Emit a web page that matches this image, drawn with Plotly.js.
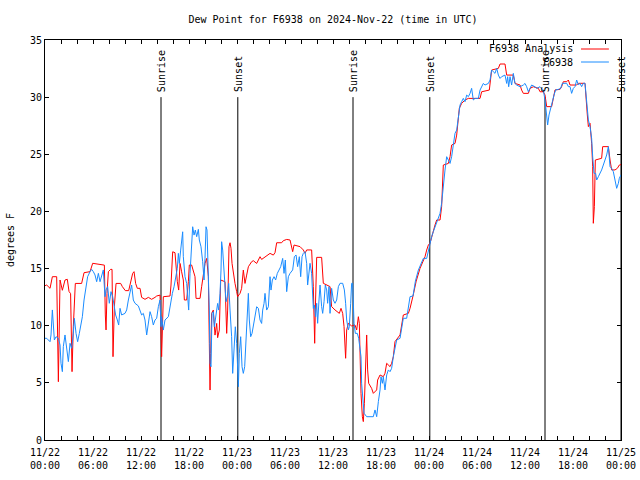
<!DOCTYPE html>
<html>
<head>
<meta charset="utf-8">
<script src="https://cdn.plot.ly/plotly-3.0.1.min.js"></script>
<style>html,body{margin:0;padding:0;background:#fff;}#chart{width:640px;height:480px;}</style>
</head>
<body>
<div id="chart"></div>
<script>
// Hours since 2024-11-22 00:00 UTC
const tickLabels = ["11/22<br>00:00","11/22<br>06:00","11/22<br>12:00","11/22<br>18:00","11/23<br>00:00","11/23<br>06:00","11/23<br>12:00","11/23<br>18:00","11/24<br>00:00","11/24<br>06:00","11/24<br>12:00","11/24<br>18:00","11/25<br>00:00"];

const sunHours = [14.5, 24.1, 38.5, 48.1, 62.5, 72.0];
const sunLabels = ["Sunrise","Sunset","Sunrise","Sunset","Sunrise","Sunset"];

const seriesNames = ["F6938 Analysis", "F6938"];

const analysisHours = [0.0,0.21,0.63,0.92,1.46,1.67,1.88,2.17,2.5,2.79,3.0,3.2,3.38,3.54,3.79,4.58,4.88,5.63,5.96,7.42,7.54,7.63,7.75,7.92,8.21,8.38,8.5,8.67,8.88,9.46,9.67,10.04,10.46,10.7,10.96,11.13,11.33,11.54,11.88,12.08,12.5,12.92,13.33,13.75,13.96,14.38,14.58,14.79,15.63,15.75,15.96,16.25,16.38,16.54,16.71,16.88,17.08,17.29,17.42,17.71,17.92,18.04,18.33,18.54,18.75,18.88,19.38,19.58,19.79,20.0,20.21,20.42,20.54,20.63,20.71,20.83,21.04,21.13,21.25,21.46,21.58,21.79,21.96,22.5,22.63,22.71,22.83,23.0,23.13,23.25,23.38,23.54,23.75,23.96,24.08,24.38,24.58,24.79,25.0,25.21,25.42,25.83,26.04,26.46,26.67,26.88,27.08,27.5,27.92,28.13,28.54,28.75,28.96,29.58,29.79,30.21,30.63,30.71,30.96,31.13,31.88,32.29,32.5,32.71,33.33,33.54,33.67,33.71,33.79,33.96,34.58,34.79,35.63,35.83,36.25,36.79,37.0,37.21,37.38,37.5,37.58,37.71,37.92,38.33,38.75,38.96,39.17,39.29,39.38,39.5,39.67,39.79,39.92,40.08,40.21,40.33,40.46,40.83,41.04,41.46,41.58,41.88,42.29,42.5,42.71,43.13,43.33,43.54,43.75,44.38,44.58,44.79,45.42,45.63,46.0,46.4,46.88,47.29,47.5,47.71,47.92,48.13,48.33,48.54,48.75,48.96,49.38,49.58,49.79,50.42,50.63,50.83,51.25,51.46,51.67,51.79,52.08,52.5,52.92,54.38,54.58,55.54,55.83,56.67,56.88,57.5,57.71,58.54,58.75,59.38,59.58,59.79,60.42,60.63,61.04,61.67,61.88,62.29,62.5,62.71,63.33,63.54,63.75,64.38,64.58,64.79,65.21,65.42,65.63,66.46,66.67,67.5,67.63,67.79,67.92,68.13,68.33,68.46,68.54,68.67,68.79,69.58,69.71,70.42,70.63,70.83,71.25,71.54,71.79,72.0];
const analysisDew = [13.5,13.56,13.27,14.29,14.29,5.1,14.0,13.1,14.0,14.06,13.0,12.8,5.98,9.92,13.7,13.7,14.64,14.73,15.46,15.3,10.94,9.63,12.83,14.73,14.93,14.93,7.29,11.67,13.7,13.7,13.42,13.07,13.07,13.7,14.58,14.73,13.7,13.27,13.27,12.48,12.31,12.48,12.31,12.48,12.6,12.68,7.29,12.54,12.6,13.56,16.47,16.39,14.72,13.85,13.12,15.45,14.72,14.0,12.25,12.25,13.85,15.31,15.31,14.72,14.29,12.39,12.39,13.41,14.43,15.45,15.89,14.29,8.45,4.37,7.58,11.08,11.37,10.2,9.18,10.2,8.95,9.62,14.0,13.85,10.5,9.33,11.37,16.91,17.26,16.77,15.45,14.58,13.7,12.98,12.54,12.83,13.27,14.87,13.7,14.43,15.16,15.6,15.69,15.45,15.75,16.04,15.8,16.04,16.27,16.33,16.18,16.39,17.26,17.26,17.44,17.55,17.5,17.21,16.48,17.06,16.92,16.63,16.33,16.63,16.63,13.42,10.5,8.46,11.38,15.98,15.98,13.71,13.42,11.67,11.38,11.08,11.52,11.08,9.92,8.17,7.15,9.63,10.21,9.98,10.06,9.63,10.79,10.21,7.58,4.08,2.04,1.61,3.21,6.42,9.19,6.13,4.96,4.52,4.08,4.38,5.25,5.69,5.54,5.84,6.71,6.42,6.71,7.29,8.61,9.19,10.21,10.94,11.08,11.52,12.6,13.9,15.02,15.75,16.04,16.62,17.06,17.21,17.79,18.37,18.81,19.25,19.25,20.41,24.06,24.2,24.79,25.81,25.95,26.68,27.85,29.02,29.45,29.75,29.89,29.89,30.47,30.62,32.37,32.52,32.9,32.9,31.93,31.93,31.2,31.06,30.62,30.33,30.33,30.77,30.91,30.77,30.47,30.47,30.19,29.17,29.17,29.9,30.63,30.68,30.92,31.35,31.35,31.5,31.06,31.06,31.21,31.21,29.46,28.44,27.42,27.71,25.96,23.92,18.96,20.42,24.5,24.65,25.67,25.67,24.5,23.63,23.63,23.77,24.06,24.1];

const stationHours = [0.0,0.21,0.63,0.75,0.92,1.04,1.17,1.38,1.67,1.88,2.0,2.17,2.29,2.5,2.71,2.92,3.13,3.33,3.54,3.67,3.88,4.08,4.29,4.46,4.67,4.88,5.13,5.33,5.63,5.83,6.04,6.25,6.46,6.67,6.88,7.08,7.29,7.5,7.63,7.83,8.04,8.25,8.46,8.63,8.83,9.04,9.21,9.38,9.58,10.0,10.21,10.42,10.63,10.83,11.04,11.25,11.67,11.88,12.08,12.29,12.5,12.71,12.92,13.13,13.33,13.54,13.75,13.96,14.17,14.38,14.5,14.58,14.79,15.0,15.42,15.54,15.71,15.92,16.13,16.33,16.54,16.67,16.79,16.96,17.08,17.21,17.29,17.5,17.71,17.83,17.96,18.13,18.33,18.46,18.63,18.79,18.96,19.17,19.29,19.5,19.71,19.88,20.0,20.13,20.25,20.42,20.54,20.63,20.75,20.88,21.04,21.17,21.33,21.46,21.58,21.71,21.88,22.0,22.08,22.21,22.38,22.5,22.63,22.79,22.96,23.13,23.33,23.46,23.63,23.79,23.96,24.08,24.17,24.29,24.46,24.63,24.79,24.96,25.13,25.29,25.42,25.54,25.71,25.88,26.04,26.25,26.46,26.67,26.88,27.08,27.21,27.38,27.5,27.71,27.92,28.13,28.25,28.42,28.63,28.83,29.04,29.25,29.46,29.71,29.88,30.04,30.21,30.42,30.63,30.96,31.17,31.38,31.58,31.79,31.96,32.13,32.29,32.5,32.71,32.83,33.0,33.13,33.33,33.54,33.67,33.83,33.96,34.08,34.25,34.38,34.58,34.71,34.88,35.04,35.21,35.33,35.5,35.63,35.83,36.04,36.25,36.46,36.67,36.88,37.21,37.42,37.58,37.71,37.92,38.04,38.21,38.33,38.46,38.63,38.79,39.04,39.21,39.38,39.5,39.58,39.71,39.88,40.21,41.04,41.25,41.46,41.67,41.88,42.0,42.17,42.29,42.5,42.71,42.92,43.13,43.33,43.54,43.75,43.96,44.38,44.58,44.79,45.21,45.42,45.63,46.0,46.3,46.67,47.08,47.29,47.71,47.92,48.13,48.33,48.54,48.75,48.96,49.17,49.38,49.58,49.71,49.88,50.0,50.21,50.42,50.63,50.83,51.04,51.25,51.46,51.67,51.88,52.08,52.29,52.5,52.71,52.92,53.13,53.33,53.54,53.75,54.17,54.38,54.58,54.79,55.0,55.42,55.63,55.83,56.04,56.25,56.46,56.67,56.88,57.08,57.5,57.71,57.83,57.96,58.13,58.33,58.54,58.75,58.96,59.38,59.79,60.0,60.21,60.42,60.63,60.83,61.25,61.46,61.88,62.29,62.5,62.71,62.83,63.0,63.21,63.42,63.63,63.83,64.17,64.46,64.67,65.21,65.42,65.63,65.83,66.04,66.25,66.46,66.67,66.88,67.08,67.29,67.5,67.71,67.92,68.13,68.33,68.46,68.63,68.83,68.96,69.17,69.38,69.58,69.79,70.0,70.21,70.42,70.63,70.83,71.04,71.25,71.46,71.67,71.79,72.0];
const stationDew = [8.9,8.9,8.6,9.19,11.38,9.92,8.75,9.04,8.9,8.31,6.71,5.98,8.17,9.19,7.73,6.86,8.46,8.02,9.33,10.65,9.33,8.6,9.33,9.92,10.79,12.25,13.27,14.29,14.73,14.93,14.73,14.44,13.85,14.58,13.85,14.44,14.88,12.54,13.13,13.42,11.96,12.98,12.54,11.81,10.94,10.5,10.06,11.52,10.94,11.08,11.38,12.25,12.98,13.56,12.25,11.96,11.73,11.23,10.94,11.08,10.5,9.19,10.5,11.23,10.79,10.06,10.5,10.65,11.67,12.25,9.92,10.79,9.62,10.5,10.79,11.37,12.25,12.83,13.41,14.29,15.02,16.33,15.45,16.62,17.79,18.22,16.04,14.29,13.7,12.83,11.37,14.58,17.79,18.66,17.93,18.37,17.79,18.43,17.5,16.91,15.6,14.0,15.89,18.66,18.37,14.87,11.37,6.71,6.41,11.08,11.23,9.91,10.79,11.66,11.95,11.37,12.83,14.87,17.35,16.62,14.29,13.41,12.1,12.54,13.7,11.37,9.04,5.83,8.45,9.91,8.45,6.12,4.66,7.58,9.04,6.41,5.83,6.41,9.04,11.37,12.83,10.5,9.04,9.33,9.91,10.79,11.66,11.52,10.5,10.2,11.37,11.95,12.83,11.37,11.66,14.29,13.12,14.0,14.29,14.0,14.58,14.87,15.16,15.89,14.58,15.75,12.98,14.29,14.58,14.88,16.04,16.19,15.17,16.04,14.29,16.04,16.33,16.48,15.46,13.56,14.88,15.46,14.58,11.52,11.81,10.79,11.96,10.21,12.25,13.56,11.67,11.08,12.1,13.56,13.13,11.96,13.42,11.08,13.27,12.25,11.96,12.25,13.42,13.71,13.71,13.13,11.96,10.5,9.63,9.92,11.96,13.71,13.71,10.21,9.33,9.33,8.9,8.17,7.29,4.96,3.5,2.34,2.04,2.04,2.63,2.04,3.36,4.38,5.54,4.96,5.54,4.38,5.69,6.13,5.98,6.27,7.29,8.02,8.75,8.9,9.92,10.65,10.65,11.67,12.54,12.6,13.9,14.87,15.46,15.89,15.89,16.62,17.21,17.79,18.23,18.66,19.1,19.54,19.83,20.71,21.87,23.18,23.62,24.79,24.5,24.2,24.79,25.66,26.83,27.12,28.43,29.31,29.6,29.89,29.6,30.18,30.04,30.33,30.77,29.75,29.89,29.89,30.62,30.91,31.2,31.06,31.2,31.5,32.37,32.22,32.08,32.52,31.93,31.64,31.79,31.93,31.2,31.79,30.91,31.79,31.06,32.08,31.2,31.06,30.91,31.06,31.2,30.91,30.47,30.77,31.06,30.91,30.77,30.91,30.62,29.75,28.29,27.56,28.44,29.17,29.6,30.19,30.63,30.68,30.77,31.21,31.21,30.92,30.92,30.33,30.77,30.92,31.5,31.06,31.21,30.92,31.21,31.21,29.17,28.0,27.42,26.4,24.79,23.33,23.33,22.75,23.04,23.33,23.63,24.06,24.5,24.94,25.67,23.92,23.77,23.48,22.75,22.02,22.46,22.9,23.2];

const FONT = "DejaVu Sans Mono, Liberation Mono, monospace";

// ticks every 2 hours, labels every 6 hours
const tickVals = [], tickText = [];
for (let h = 0; h <= 72; h += 2) {
  tickVals.push(h);
  tickText.push(h % 6 === 0 ? tickLabels[h / 6] : "");
}

const traces = [
  {x: analysisHours, y: analysisDew, type: "scatter", mode: "lines", name: seriesNames[0],
   line: {color: "#ff0000", width: 1}, showlegend: false, hoverinfo: "skip"},
  {x: stationHours, y: stationDew, type: "scatter", mode: "lines", name: seriesNames[1],
   line: {color: "#1a8cff", width: 1}, showlegend: false, hoverinfo: "skip"}
];

const shapes = [];
const annotations = [];
sunHours.forEach((h, i) => {
  shapes.push({type: "line", xref: "x", yref: "y", x0: h, x1: h, y0: 0, y1: 30,
    line: {color: "#000", width: 1}, layer: "below"});
  annotations.push({x: h, y: 30, xref: "x", yref: "y", text: sunLabels[i], showarrow: false,
    textangle: -90, xanchor: "center", yanchor: "bottom", yshift: 3,
    font: {family: FONT, size: 10, color: "#000"}});
});

// legend (text right-aligned, sample line to the right, gnuplot style)
const legY = [0.9775, 0.945];
const legColors = ["#ff0000", "#1a8cff"];
seriesNames.forEach((n, i) => {
  annotations.push({x: 0.9201, y: legY[i], xref: "paper", yref: "paper", text: n, showarrow: false,
    xanchor: "right", yanchor: "middle", font: {family: FONT, size: 10, color: "#000"}});
  shapes.push({type: "line", xref: "paper", yref: "paper", x0: 0.9306, x1: 0.979, y0: legY[i], y1: legY[i],
    line: {color: legColors[i], width: 1}});
});

const axisCommon = {
  showline: true, linecolor: "#000", linewidth: 1, mirror: "ticks",
  ticks: "inside", ticklen: 4, tickcolor: "#000", tickwidth: 1,
  showgrid: false, zeroline: false,
  tickfont: {family: FONT, size: 10, color: "#000"}
};

const layout = {
  width: 640, height: 480,
  margin: {l: 45, r: 19, t: 40, b: 40, pad: 0},
  paper_bgcolor: "#fff", plot_bgcolor: "#fff",
  title: {text: "Dew Point for F6938 on 2024-Nov-22 (time in UTC)", x: 0.5, xref: "paper",
    y: 0.96, yref: "container", yanchor: "middle", font: {family: FONT, size: 10, color: "#000"}},
  xaxis: Object.assign({}, axisCommon, {range: [0, 72], tickmode: "array", tickvals: tickVals, ticktext: tickText,
    ticklabelstandoff: 3}),
  yaxis: Object.assign({}, axisCommon, {range: [0, 35], tickmode: "linear", tick0: 0, dtick: 5,
    title: {text: "degrees F", standoff: 13, font: {family: FONT, size: 10, color: "#000"}}}),
  shapes: shapes, annotations: annotations, showlegend: false
};

Plotly.newPlot("chart", traces, layout, {staticPlot: true, displayModeBar: false});
</script>
</body>
</html>
